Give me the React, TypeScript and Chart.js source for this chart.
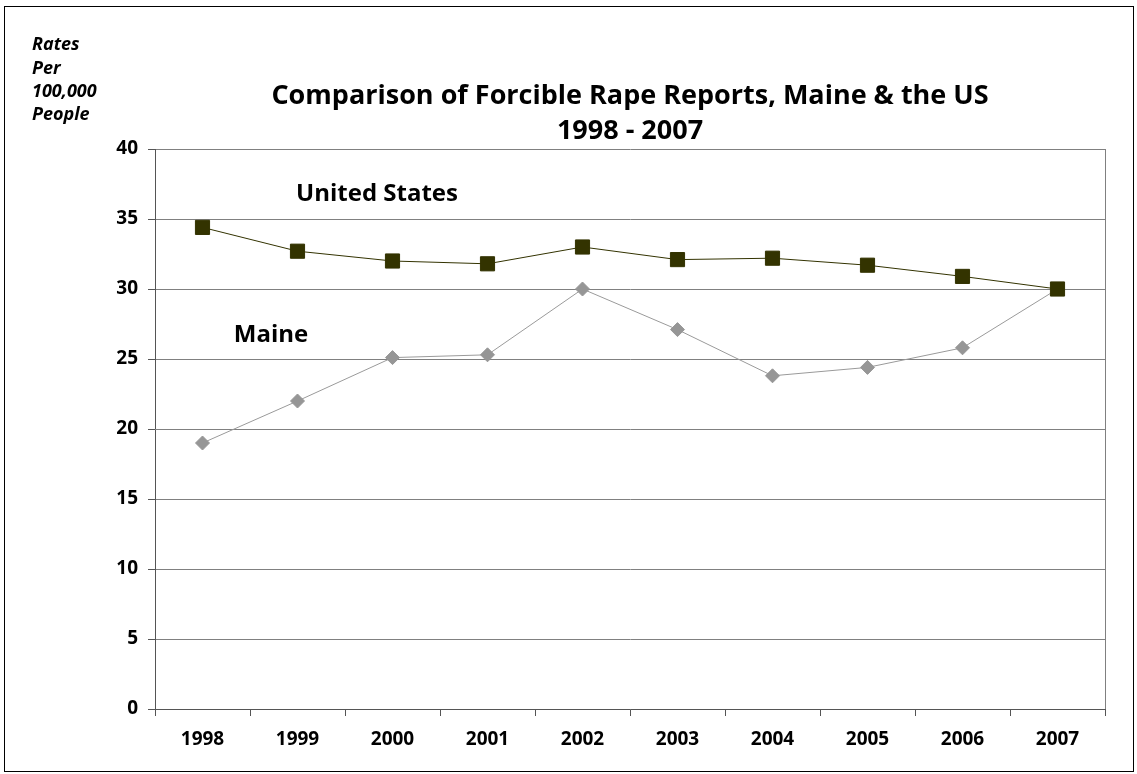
import React, { useEffect, useRef } from "react";
import { Chart, registerables } from "chart.js";

Chart.register(...registerables);

const years = ["1998", "1999", "2000", "2001", "2002", "2003", "2004", "2005", "2006", "2007"];
const usRates = [34.4, 32.7, 32.0, 31.8, 33.0, 32.1, 32.2, 31.7, 30.9, 30.0];
const maineRates = [19.0, 22.0, 25.1, 25.3, 30.0, 27.1, 23.8, 24.4, 25.8, 30.0];
const titleLines = ["Comparison of Forcible Rape Reports, Maine & the US", "1998 - 2007"];
const yAxisTitleLines = ["Rates", "Per", "100,000", "People"];
const seriesLabels = ["United States", "Maine"];

const FONT = "'Open Sans', Lato, sans-serif";

const decorPlugin = {
  id: "decor",
  afterDraw(chart: any) {
    const ctx = chart.ctx;
    const area = chart.chartArea;
    ctx.save();
    // outer frame
    ctx.strokeStyle = "#000000";
    ctx.lineWidth = 1;
    ctx.strokeRect(4.5, 6.5, 1129, 765);
    // right border of plot
    ctx.strokeStyle = "#808080";
    ctx.beginPath();
    ctx.moveTo(Math.round(area.right) + 0.5, area.top);
    ctx.lineTo(Math.round(area.right) + 0.5, area.bottom);
    ctx.stroke();
    // title
    ctx.fillStyle = "#000000";
    ctx.textAlign = "center";
    ctx.textBaseline = "middle";
    ctx.font = `bold 27px ${FONT}`;
    ctx.fillText(titleLines[0], 630, 96);
    ctx.fillText(titleLines[1], 630, 131);
    // y axis title
    ctx.textAlign = "left";
    ctx.font = `italic bold 18px ${FONT}`;
    yAxisTitleLines.forEach((t, i) => ctx.fillText(t, 32, 45 + i * 23.4));
    // series labels
    ctx.textAlign = "center";
    ctx.font = `bold 24px ${FONT}`;
    ctx.fillText(seriesLabels[0], 377, 194);
    ctx.fillText(seriesLabels[1], 271, 335);
    ctx.restore();
  },
};

export default function App() {
  const ref = useRef<HTMLCanvasElement>(null);
  useEffect(() => {
    const chart = new Chart(ref.current!, {
      type: "line",
      data: {
        labels: years,
        datasets: [
          {
            label: seriesLabels[0],
            data: usRates,
            borderColor: "#333300",
            backgroundColor: "#333300",
            borderWidth: 1,
            pointStyle: "rect",
            pointRadius: 10,
            pointBorderColor: "#333300",
            pointBackgroundColor: "#333300",
            pointBorderWidth: 1,
          },
          {
            label: seriesLabels[1],
            data: maineRates,
            borderColor: "#9a9a9a",
            backgroundColor: "#969696",
            borderWidth: 1,
            pointStyle: "rectRot",
            pointRadius: 7,
            pointBorderColor: "#969696",
            pointBackgroundColor: "#969696",
            pointBorderWidth: 1,
          },
        ],
      },
      options: {
        animation: false,
        responsive: false,
        layout: { padding: { left: 0, top: 149, right: 32, bottom: 0 } },
        plugins: { legend: { display: false }, title: { display: false }, tooltip: { enabled: false } },
        scales: {
          x: {
            offset: true,
            grid: { display: true, offset: true, drawOnChartArea: false, tickLength: 7, color: "#555555" },
            border: { display: true, color: "#555555", width: 1 },
            ticks: { color: "#000000", padding: 12, font: { family: FONT, size: 19, weight: "bold" } },
            afterFit: (s: any) => { s.height = 65; },
          },
          y: {
            min: 0,
            max: 40,
            ticks: { stepSize: 5, color: "#000000", padding: 10, font: { family: FONT, size: 19, weight: "bold" } },
            grid: { color: "#808080", tickLength: 7, tickColor: "#555555" },
            border: { display: true, color: "#555555", width: 1 },
            afterFit: (s: any) => { s.width = 155; },
          },
        },
      },
      plugins: [decorPlugin],
    });
    return () => chart.destroy();
  }, []);
  return (
    <div style={{ position: "absolute", left: 0, top: 0, width: 1137, height: 774, background: "#fff" }}>
      <canvas ref={ref} width={1137} height={774} style={{ display: "block" }} />
    </div>
  );
}
